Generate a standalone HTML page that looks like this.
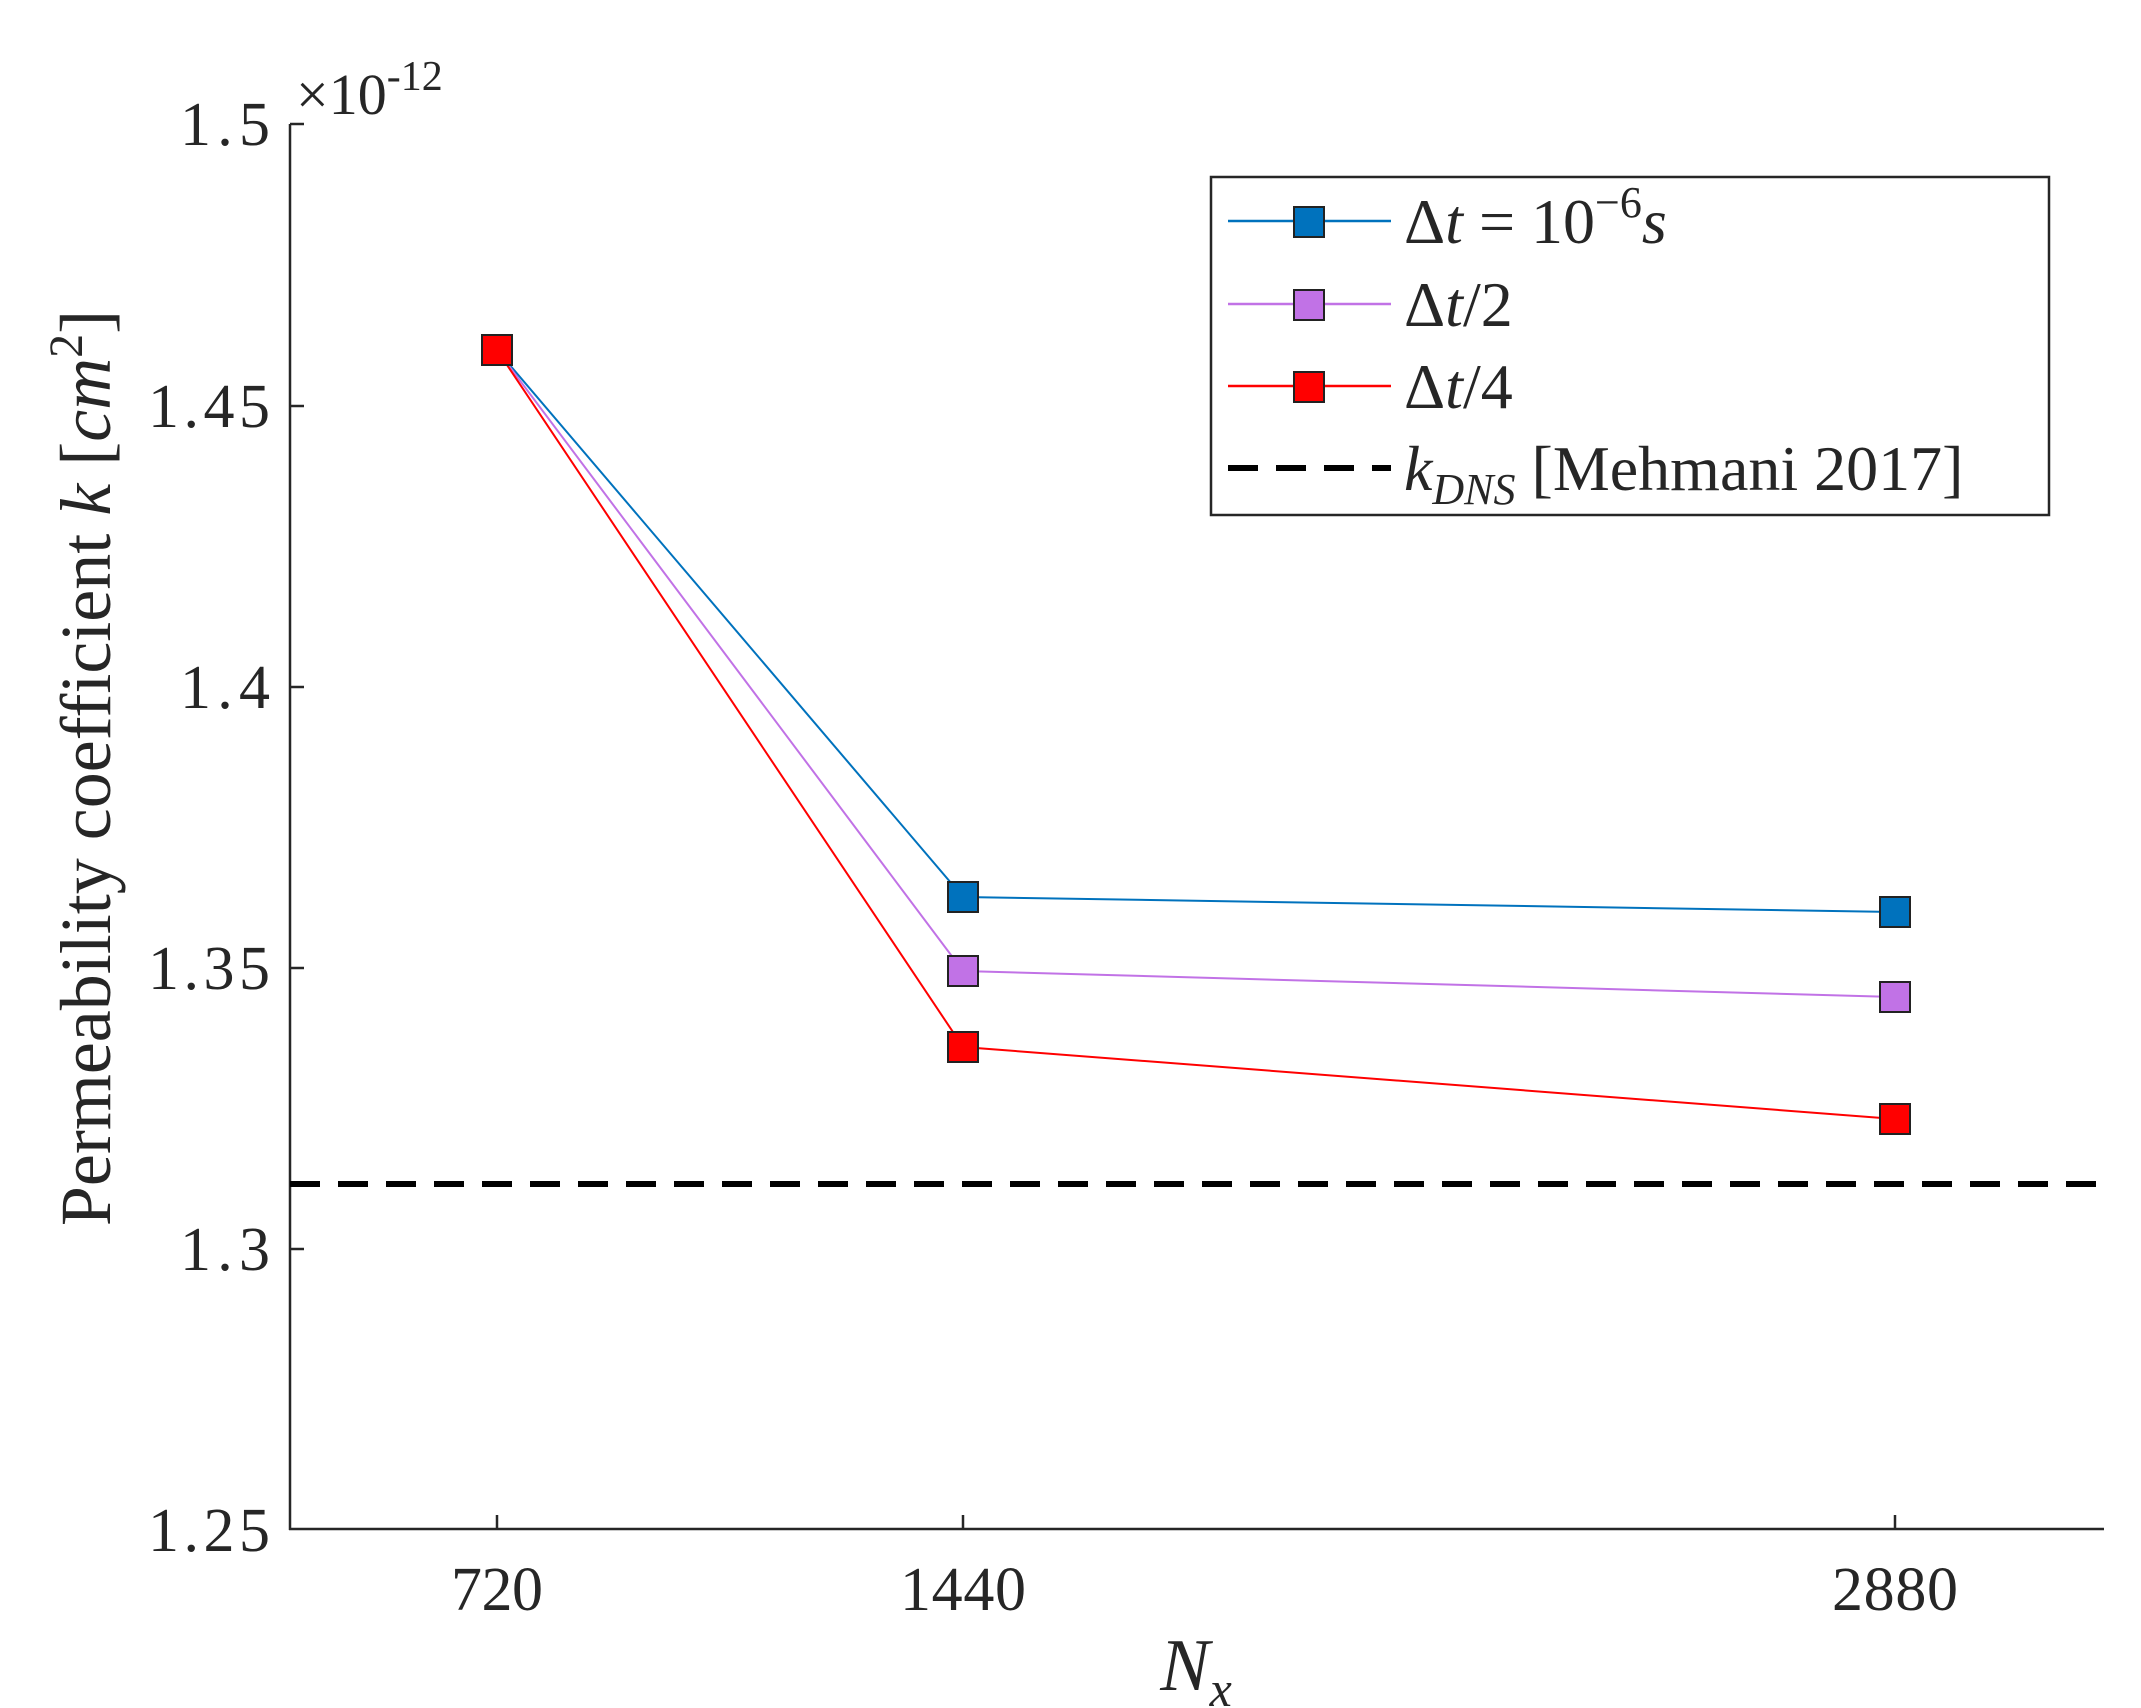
<!DOCTYPE html>
<html><head><meta charset="utf-8"><style>html,body{margin:0;padding:0;background:#fff}svg{display:block}</style></head>
<body>
<svg width="2141" height="1708" viewBox="0 0 2141 1708" xmlns="http://www.w3.org/2000/svg" font-family="Liberation Serif, serif" fill="#262626">
<rect width="2141" height="1708" fill="#fff"/>
<g stroke="#262626" stroke-width="2.5" fill="none">
<line x1="290" y1="124" x2="290" y2="1530"/>
<line x1="289" y1="1529" x2="2104" y2="1529"/>
<line x1="290" y1="124" x2="304" y2="124"/>
<line x1="290" y1="406" x2="304" y2="406"/>
<line x1="290" y1="687" x2="304" y2="687"/>
<line x1="290" y1="968" x2="304" y2="968"/>
<line x1="290" y1="1249" x2="304" y2="1249"/>
<line x1="497" y1="1529" x2="497" y2="1515"/>
<line x1="963" y1="1529" x2="963" y2="1515"/>
<line x1="1895" y1="1529" x2="1895" y2="1515"/>
</g>
<g font-size="62" text-anchor="end">
<text x="270" y="145" textLength="90">1.5</text>
<text x="270" y="427" textLength="122">1.45</text>
<text x="270" y="708" textLength="90">1.4</text>
<text x="270" y="989" textLength="122">1.35</text>
<text x="270" y="1270" textLength="90">1.3</text>
<text x="270" y="1551" textLength="122">1.25</text>
</g>
<g font-size="62" text-anchor="middle">
<text x="497" y="1610" textLength="92">720</text>
<text x="963" y="1610" textLength="126">1440</text>
<text x="1895" y="1610" textLength="126">2880</text>
</g>
<text x="296" y="114" font-size="58">×10<tspan font-size="42" dy="-24">-12</tspan></text>
<text x="1196" y="1690" font-size="74" font-style="italic" text-anchor="middle">N<tspan font-size="50" dy="16">x</tspan></text>
<text transform="translate(110,768) rotate(-90)" font-size="72" text-anchor="middle">Permeability coefficient <tspan font-style="italic">k</tspan> [<tspan font-style="italic">cm</tspan><tspan font-size="48" dy="-28">2</tspan><tspan dy="28">]</tspan></text>
<line x1="290" y1="1184" x2="2104" y2="1184" stroke="#000" stroke-width="6" stroke-dasharray="30 18"/>
<polyline points="497,350 963,897 1895,912" fill="none" stroke="#0072BD" stroke-width="2"/>
<polyline points="497,350 963,971 1895,997" fill="none" stroke="#C172E6" stroke-width="2"/>
<polyline points="497,350 963,1047 1895,1119" fill="none" stroke="#FF0000" stroke-width="2"/>
<g stroke="#222" stroke-width="2">
<rect x="948" y="882" width="30" height="30" fill="#0072BD"/>
<rect x="1880" y="897" width="30" height="30" fill="#0072BD"/>
<rect x="948" y="956" width="30" height="30" fill="#C172E6"/>
<rect x="1880" y="982" width="30" height="30" fill="#C172E6"/>
<rect x="948" y="1032" width="30" height="30" fill="#FF0000"/>
<rect x="1880" y="1104" width="30" height="30" fill="#FF0000"/>
<rect x="482" y="335" width="30" height="30" fill="#FF0000"/>
</g>
<rect x="1211" y="177" width="838" height="338" fill="#fff" stroke="#262626" stroke-width="2.5"/>
<line x1="1228" y1="221" x2="1391" y2="221" stroke="#0072BD" stroke-width="2.5"/>
<rect x="1294" y="207" width="30" height="30" fill="#0072BD" stroke="#222" stroke-width="2"/>
<line x1="1228" y1="304" x2="1391" y2="304" stroke="#C172E6" stroke-width="2.5"/>
<rect x="1294" y="290" width="30" height="30" fill="#C172E6" stroke="#222" stroke-width="2"/>
<line x1="1228" y1="386" x2="1391" y2="386" stroke="#FF0000" stroke-width="2.5"/>
<rect x="1294" y="372" width="30" height="30" fill="#FF0000" stroke="#222" stroke-width="2"/>
<line x1="1228" y1="468" x2="1391" y2="468" stroke="#000" stroke-width="6" stroke-dasharray="30 18"/>
<g font-size="64">
<text x="1404" y="243">Δ<tspan font-style="italic">t</tspan> = 10<tspan font-size="44" dy="-26">−6</tspan><tspan font-style="italic" dy="26">s</tspan></text>
<text x="1404" y="326">Δ<tspan font-style="italic">t</tspan>/2</text>
<text x="1404" y="408">Δ<tspan font-style="italic">t</tspan>/4</text>
<text x="1404" y="490"><tspan font-style="italic">k</tspan><tspan font-style="italic" font-size="44" dy="14">DNS</tspan><tspan dy="-14"> [Mehmani 2017]</tspan></text>
</g>
</svg>
</body></html>
